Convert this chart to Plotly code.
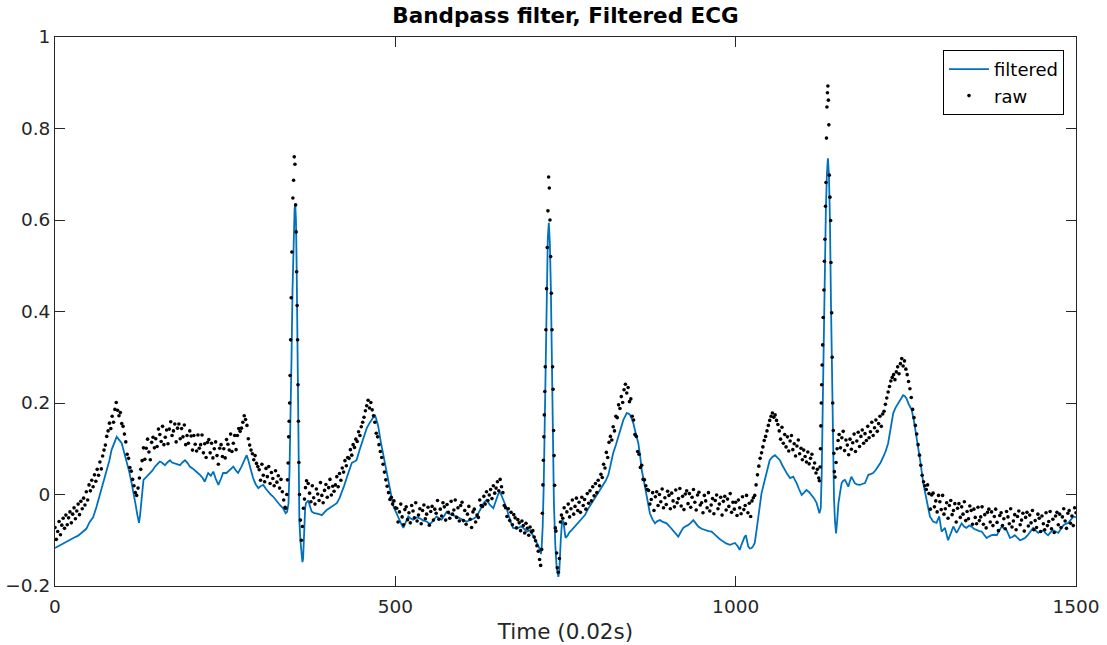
import plotly.graph_objects as go

# ---------------- filtered ECG ----------------
filt_t = [0, 6, 12, 20, 27, 34, 41, 46, 51, 56, 61, 65, 68.5, 72, 76, 80, 83, 87, 90.6, 94,
          98, 101, 105, 109, 112.6, 116, 119, 121, 123.4, 125, 127, 129, 130, 134.7, 139.6, 143, 147, 151, 154, 157,
          161.6, 165, 169, 172, 176, 180, 183.6, 187, 191, 195, 198, 202, 205.7, 209, 213, 217, 220, 225, 229, 232.6,
          236, 240, 244, 247, 252, 257, 262, 266, 269, 274, 278, 281.6, 284, 286.5, 291, 295, 298.7, 302, 306, 310,
          313, 317, 320.7, 324, 328, 331, 335, 337, 339, 341, 343, 344.5, 346, 347.5, 349, 350.5, 352, 353, 354, 355,
          356, 357, 358, 359, 360.5, 362, 363.5, 364.5, 366, 367.5, 368.7, 372, 374.5, 377, 380, 384.4, 388, 392, 395, 399,
          403, 406.5, 410, 414, 418, 421, 425, 428.5, 432, 436, 440, 443, 447, 450.6, 454, 458, 462, 465, 468, 470,
          472, 475, 478, 482, 486, 489.7, 493, 497, 500, 504, 508, 511.7, 515, 519, 522, 526, 531, 536, 541, 546,
          550, 553, 557, 560.7, 564, 568, 572, 575.5, 579, 582.8, 586, 590, 594, 597.5, 601, 605, 608, 612, 616, 619.5,
          623, 627, 630, 634, 639, 644, 646.5, 649, 651, 653.7, 656, 658.6, 661, 663.6, 666, 668.4, 671, 673, 677, 680.6,
          684, 688, 690.5, 693, 698, 700.5, 702.7, 705, 707.6, 710, 712.5, 714, 715, 716.5, 718, 719.5, 721, 722.5, 724, 725.5,
          727, 728.5, 730, 731.5, 733, 735, 737, 739.5, 741, 743, 745, 747, 750, 753, 756, 759, 764, 768.8, 773, 778.6,
          783, 788.4, 793, 798, 802, 805.5, 809, 813, 816, 820, 824, 827.5, 831, 835, 838, 840, 842.5, 844.7, 847, 849.6,
          853, 857, 860, 862, 864.5, 866.8, 870, 874, 878, 881.5, 885, 888.8, 893, 898.6, 903, 908, 912, 915.7, 919, 923,
          926, 930, 934, 937.7, 941, 945, 950, 955, 960, 964.7, 968, 972, 977, 981.8, 986, 991.6, 995, 999, 1003, 1006,
          1008.5, 1011, 1013, 1015, 1017, 1018.5, 1021, 1023.5, 1026, 1028, 1030.5, 1033, 1035.5, 1038, 1040.5, 1043, 1046.5, 1050, 1054, 1057.7,
          1061, 1065, 1068.5, 1072, 1076, 1080, 1084.6, 1087, 1089.6, 1093, 1097, 1100.5, 1104, 1108, 1111.6, 1115, 1119, 1121, 1123, 1125,
          1126.5, 1128, 1129.5, 1131, 1132.5, 1134, 1135.5, 1137, 1138.5, 1140, 1141.5, 1143, 1144.5, 1146, 1147.5, 1149, 1151, 1153.5, 1155.7, 1158,
          1160.6, 1163, 1165.5, 1168, 1170, 1172.5, 1175, 1178, 1182.6, 1186, 1190, 1193, 1195, 1199, 1202, 1206, 1209.5, 1213, 1217, 1220.5,
          1224, 1228, 1231.5, 1235, 1239, 1242.5, 1246, 1248.5, 1251, 1254, 1258.6, 1262, 1266, 1271, 1275.6, 1280.6, 1285.4, 1290, 1295, 1299,
          1302.6, 1307.5, 1312, 1316, 1319.7, 1324.6, 1328, 1332, 1335.5, 1339, 1343, 1346.7, 1350, 1354, 1358, 1361.4, 1365, 1368.7, 1372, 1376,
          1380, 1383.6, 1387, 1390.8, 1394, 1398, 1403, 1406.5, 1410, 1414, 1417.7, 1421, 1425, 1428.5, 1432, 1437, 1441, 1444.5, 1448, 1452,
          1455.5, 1459, 1462.5, 1466, 1470, 1474, 1478, 1481.6, 1485, 1489, 1492.5, 1496.4, 1500]
filt_v = [-0.117, -0.112, -0.106, -0.1, -0.095, -0.09, -0.082, -0.075, -0.06, -0.05, -0.027, -0.005, 0.016, 0.03, 0.053, 0.075, 0.097, 0.115, 0.126, 0.12,
          0.112, 0.095, 0.075, 0.05, 0.025, 0.0, -0.027, -0.045, -0.062, -0.045, -0.019, 0.01, 0.032, 0.039, 0.047, 0.052, 0.061, 0.068, 0.072, 0.07,
          0.064, 0.07, 0.075, 0.07, 0.068, 0.066, 0.064, 0.07, 0.075, 0.068, 0.061, 0.057, 0.053, 0.048, 0.043, 0.036, 0.028, 0.047, 0.041, 0.05,
          0.035, 0.021, 0.035, 0.047, 0.047, 0.055, 0.061, 0.052, 0.047, 0.061, 0.075, 0.086, 0.075, 0.061, 0.036, 0.022, 0.014, 0.018, 0.021, 0.012,
          0.006, 0.0, -0.005, -0.012, -0.019, -0.024, -0.03, -0.036, -0.041, -0.038, -0.02, 0.05, 0.15, 0.3, 0.45, 0.57, 0.625, 0.633, 0.6, 0.5,
          0.33, 0.15, 0.0, -0.056, -0.1, -0.13, -0.148, -0.14, -0.08, -0.03, -0.019, -0.013, -0.025, -0.037, -0.04, -0.041, -0.043, -0.045, -0.04, -0.034,
          -0.03, -0.027, -0.024, -0.019, -0.008, 0.003, 0.02, 0.036, 0.052, 0.069, 0.072, 0.075, 0.095, 0.112, 0.128, 0.145, 0.156, 0.163, 0.17, 0.174,
          0.165, 0.148, 0.12, 0.09, 0.06, 0.032, 0.01, -0.025, -0.035, -0.05, -0.062, -0.073, -0.06, -0.048, -0.052, -0.055, -0.05, -0.052, -0.057, -0.059,
          -0.064, -0.062, -0.054, -0.048, -0.052, -0.055, -0.046, -0.038, -0.042, -0.045, -0.046, -0.048, -0.052, -0.055, -0.057, -0.059, -0.057, -0.055, -0.052, -0.048,
          -0.038, -0.027, -0.018, -0.012, -0.023, -0.03, -0.018, -0.008, 0.0, 0.006, -0.003, -0.012, -0.02, -0.03, -0.044, -0.056, -0.066, -0.073, -0.074, -0.073,
          -0.07, -0.073, -0.077, -0.081, -0.078, -0.085, -0.092, -0.097, -0.103, -0.112, -0.121, -0.13, -0.114, -0.07, 0.02, 0.15, 0.3, 0.45, 0.56, 0.594,
          0.55, 0.45, 0.3, 0.12, -0.02, -0.11, -0.16, -0.18, -0.165, -0.1, -0.056, -0.06, -0.095, -0.09, -0.082, -0.078, -0.07, -0.063, -0.055, -0.045,
          -0.032, -0.019, -0.008, 0.003, 0.012, 0.021, 0.03, 0.043, 0.065, 0.09, 0.108, 0.126, 0.145, 0.163, 0.172, 0.178, 0.177, 0.174, 0.167, 0.156,
          0.135, 0.112, 0.08, 0.053, 0.035, 0.017, -0.01, -0.041, -0.055, -0.063, -0.058, -0.056, -0.06, -0.063, -0.07, -0.078, -0.086, -0.092, -0.083, -0.073,
          -0.07, -0.067, -0.062, -0.056, -0.062, -0.07, -0.075, -0.078, -0.08, -0.081, -0.086, -0.092, -0.098, -0.103, -0.107, -0.11, -0.108, -0.106, -0.113, -0.121,
          -0.11, -0.099, -0.093, -0.089, -0.105, -0.114, -0.118, -0.117, -0.112, -0.106, -0.08, -0.048, -0.02, 0.003, 0.018, 0.032, 0.055, 0.075, 0.082, 0.086,
          0.081, 0.075, 0.064, 0.053, 0.044, 0.036, 0.039, 0.032, 0.025, 0.012, -0.001, 0.004, 0.01, 0.005, -0.001, -0.008, -0.019, -0.03, -0.041, -0.03,
          0.05, 0.2, 0.36, 0.5, 0.62, 0.7, 0.735, 0.7, 0.6, 0.42, 0.25, 0.1, -0.01, -0.06, -0.085, -0.06, -0.019, 0.005, 0.025, 0.03,
          0.032, 0.025, 0.017, 0.03, 0.039, 0.032, 0.025, 0.022, 0.021, 0.023, 0.025, 0.036, 0.043, 0.045, 0.047, 0.054, 0.061, 0.07, 0.083, 0.095,
          0.112, 0.145, 0.178, 0.19, 0.2, 0.208, 0.217, 0.215, 0.21, 0.198, 0.185, 0.16, 0.126, 0.075, 0.025, -0.012, -0.048, -0.059, -0.062, -0.048,
          -0.081, -0.073, -0.1, -0.085, -0.07, -0.084, -0.073, -0.063, -0.07, -0.073, -0.068, -0.07, -0.075, -0.078, -0.08, -0.081, -0.088, -0.095, -0.092, -0.089,
          -0.088, -0.089, -0.08, -0.07, -0.074, -0.078, -0.095, -0.093, -0.089, -0.094, -0.1, -0.098, -0.095, -0.09, -0.084, -0.073, -0.079, -0.084, -0.081, -0.078,
          -0.085, -0.089, -0.083, -0.078, -0.081, -0.084, -0.075, -0.067, -0.064, -0.062, -0.055, -0.048, -0.05]

# ---------------- raw ECG samples ----------------
RAW_STEP = 2
rawA_start = 0
rawA = [-0.072, -0.098, -0.081, -0.059, -0.088, -0.067, -0.052, -0.074, -0.045, -0.066,
        -0.051, -0.038, -0.062, -0.043, -0.029, -0.053, -0.036, -0.021, -0.044, -0.015,
        -0.031, -0.008, -0.023, 0.006, -0.012, 0.021, 0.008, 0.031, 0.017, 0.043,
        0.029, 0.055, 0.042, 0.071, 0.056, 0.084, 0.097, 0.108, 0.127, 0.139,
        0.156, 0.144, 0.171, 0.158, 0.186, 0.201, 0.184, 0.172, 0.179, 0.155,
        0.149, 0.132, 0.115, 0.088, 0.079, 0.059, 0.051, 0.033, 0.019, 0.004,
        -0.002, 0.014, 0.036, 0.055, 0.074,
        0.102, 0.077, 0.101, 0.121, 0.093, 0.076, 0.114, 0.125, 0.102, 0.122,
        0.105, 0.143, 0.131, 0.116, 0.149, 0.109, 0.125, 0.141, 0.111, 0.143,
        0.159, 0.129, 0.139, 0.154, 0.115, 0.145, 0.154, 0.122, 0.144, 0.126,
        0.152, 0.109, 0.129, 0.112, 0.139, 0.128, 0.097, 0.129, 0.110, 0.095,
        0.130, 0.101, 0.109, 0.130, 0.091, 0.111, 0.081, 0.114, 0.120, 0.091,
        0.112, 0.080, 0.100, 0.115, 0.085, 0.066, 0.101, 0.109, 0.083, 0.100,
        0.080, 0.120, 0.110, 0.097, 0.132, 0.094, 0.112, 0.129, 0.098, 0.129,
        0.144,
        0.138, 0.145, 0.158, 0.172, 0.164, 0.151, 0.122, 0.108, 0.097, 0.089,
        0.076, 0.085, 0.068, 0.061,
        0.054, 0.031, 0.066, 0.042, 0.028, 0.057, 0.039, 0.061, 0.024, 0.048,
        0.035, 0.019, 0.052, 0.027, 0.041, 0.014, 0.033,
        0.006, -0.012, -0.028]
rawB_start = 372
rawB = [0.024, 0.003, -0.016, 0.019, -0.007, -0.021, 0.012, 0.001, -0.013, 0.026,
        -0.002, -0.018, 0.009, 0.022, -0.006, 0.015, 0.033, -0.001, 0.018, 0.007,
        0.021, 0.039, 0.017, 0.046, 0.031, 0.058, 0.049, 0.074, 0.063, 0.081,
        0.079, 0.098, 0.086, 0.109, 0.103, 0.121, 0.116, 0.137, 0.129, 0.148,
        0.158, 0.169, 0.183, 0.194, 0.206, 0.189, 0.201, 0.185, 0.172, 0.158,
        0.134, 0.126, 0.109, 0.094, 0.081, 0.066, 0.049, 0.032, 0.018, 0.004,
        -0.011, -0.006, -0.021, -0.014, -0.029,
        -0.030, -0.060, -0.038, -0.021, -0.049, -0.066, -0.033, -0.027, -0.055, -0.040,
        -0.062, -0.024, -0.036, -0.051, -0.018, -0.058, -0.045, -0.031, -0.064, -0.035,
        -0.023, -0.053, -0.043, -0.028, -0.067, -0.037, -0.026, -0.056, -0.032, -0.041,
        -0.013, -0.054, -0.032, -0.047, -0.018, -0.027, -0.056, -0.022, -0.039, -0.052,
        -0.015, -0.043, -0.034, -0.012, -0.050, -0.029, -0.058, -0.024, -0.017, -0.057,
        -0.035, -0.065, -0.043, -0.026, -0.054, -0.072, -0.038, -0.032, -0.060, -0.045,
        -0.050, -0.012, -0.024,
        -0.026, -0.004, -0.021, 0.006, -0.013, -0.001, 0.011, -0.009, 0.019, 0.003,
        0.014, 0.028, 0.008, 0.033, 0.017, 0.004,
        -0.024, -0.029, -0.048, -0.031, -0.057, -0.039, -0.066, -0.044, -0.051, -0.073,
        -0.055, -0.062, -0.079, -0.058, -0.068, -0.084, -0.063, -0.074, -0.089, -0.071,
        -0.082,
        -0.079, -0.093, -0.101, -0.112, -0.124, -0.142]
rawC_start = 746
rawC = [-0.052, -0.029, -0.064, -0.038, -0.021, -0.049, -0.031, -0.012, -0.043, -0.026,
        -0.008, -0.035, -0.017, -0.039, -0.006, -0.024, -0.011, -0.032, 0.002, -0.019,
        0.008, -0.014, 0.017, -0.003, 0.024, 0.004, 0.031, 0.019, 0.044, 0.037,
        0.066, 0.058, 0.092, 0.081, 0.114, 0.127, 0.119, 0.148, 0.139, 0.171,
        0.168, 0.196, 0.188, 0.214, 0.201, 0.229, 0.241, 0.222, 0.234, 0.203,
        0.209, 0.171, 0.163, 0.131, 0.127, 0.094, 0.088, 0.059, 0.064, 0.033,
        0.032, 0.019, 0.011,
        0.009, -0.021, -0.011, 0.004, -0.035, -0.005, 0.006, -0.024, 0.000, -0.016,
        0.012, -0.029, -0.007, -0.022, 0.007, -0.002, -0.031, 0.003, -0.014, -0.027,
        0.010, -0.018, -0.009, 0.013, -0.025, -0.004, -0.033, 0.001, 0.008, -0.020,
        0.002, -0.028, -0.006, 0.011, -0.017, -0.034, -0.001, 0.005, -0.023,
        -0.018, -0.040, -0.002, -0.014, -0.029, 0.004, -0.036, -0.023, -0.009, -0.042,
        -0.013, -0.001, -0.031, -0.021, -0.006, -0.045, -0.015, -0.004, -0.034, -0.010,
        -0.026, 0.002, -0.039, -0.017, -0.032,
        -0.017, -0.046, -0.012, -0.029, -0.042, -0.005, -0.033, -0.024, -0.002, -0.040,
        -0.019, -0.048, -0.014, -0.007,
        -0.002, 0.021, 0.043, 0.062, 0.079, 0.091, 0.104, 0.118, 0.127, 0.139,
        0.151, 0.162, 0.171, 0.178, 0.169, 0.174, 0.162, 0.153,
        0.139, 0.121, 0.147, 0.112, 0.131, 0.104, 0.126, 0.095, 0.117, 0.129,
        0.098, 0.111, 0.084, 0.106, 0.119, 0.089, 0.101, 0.076, 0.097, 0.083,
        0.071, 0.093, 0.067, 0.079, 0.088, 0.058, 0.069, 0.047, 0.055, 0.036]
rawD_start = 1152
rawD = [0.131, 0.102, 0.124, 0.138, 0.096, 0.119, 0.108, 0.087, 0.121, 0.099,
        0.113, 0.132, 0.094, 0.117, 0.136, 0.105, 0.127, 0.141, 0.112, 0.133,
        0.118, 0.149, 0.124, 0.137, 0.158, 0.129, 0.146, 0.163, 0.138, 0.155,
        0.171, 0.149, 0.176,
        0.182, 0.197, 0.211, 0.224, 0.236, 0.248, 0.256, 0.262, 0.251, 0.268,
        0.279, 0.264, 0.286, 0.297, 0.281, 0.292, 0.274, 0.262, 0.247, 0.231,
        0.212, 0.186, 0.168, 0.151, 0.132, 0.109, 0.086, 0.064, 0.042, 0.028,
        0.019, 0.011, 0.021, 0.002,
        -0.032, -0.001, 0.003, -0.027, -0.014, -0.038, -0.002, -0.016, -0.033, -0.002,
        -0.043, -0.031, -0.018, -0.052, -0.024, -0.013, -0.044, -0.035, -0.020, -0.060,
        -0.030, -0.020, -0.050, -0.027, -0.043, -0.016, -0.057, -0.037, -0.053, -0.025,
        -0.035, -0.065, -0.032, -0.050, -0.064, -0.028, -0.057, -0.049, -0.027, -0.065,
        -0.044, -0.073, -0.039, -0.032, -0.060, -0.038, -0.068, -0.048, -0.032, -0.061,
        -0.079, -0.046, -0.040, -0.068, -0.053, -0.075, -0.037, -0.049, -0.064, -0.031,
        -0.071, -0.058, -0.044, -0.077, -0.048, -0.036, -0.066, -0.056, -0.041, -0.080,
        -0.050, -0.039, -0.069, -0.045, -0.062, -0.035, -0.077, -0.057, -0.072, -0.043,
        -0.052, -0.081, -0.047, -0.064, -0.077, -0.040, -0.068, -0.059, -0.037, -0.075,
        -0.054, -0.083, -0.047, -0.039, -0.066, -0.043, -0.072, -0.049, -0.031, -0.058,
        -0.074, -0.041, -0.035, -0.063, -0.047, -0.068, -0.029, -0.040]

# QRS complexes: samples read one by one
spike1_t = [339, 340.5, 341.5, 342.5, 343.3, 344, 344.7, 345.4, 346.2, 347, 348, 349.5, 350.5, 351.5, 352.5, 353.5, 354.3, 355, 355.7, 356.4,
            357, 357.6, 358.3, 359.2, 360.5, 362, 363.5, 365, 366.5, 368, 369.5]
spike1_v = [-0.03, 0.0, 0.032, 0.069, 0.126, 0.16, 0.2, 0.26, 0.338, 0.43, 0.53, 0.648, 0.687, 0.738, 0.722, 0.633, 0.574, 0.487, 0.413, 0.338,
            0.24, 0.16, 0.07, 0.0, -0.056, -0.1, -0.07, -0.03, -0.01, 0.015, 0.03]
spike2_t = [713.5, 715, 716, 716.8, 717.5, 718.2, 718.9, 719.6, 720.3, 721.2, 722.2, 723.2, 724.2, 725.2, 726.2, 727.2, 728.2, 729.2, 730.2, 731,
            731.8, 732.5, 733.2, 734, 735, 736, 737, 738, 739.5, 741, 742.5, 744]
spike2_v = [-0.155, -0.12, -0.041, 0.021, 0.075, 0.126, 0.174, 0.225, 0.279, 0.36, 0.45, 0.54, 0.62, 0.694, 0.67, 0.6, 0.52, 0.44, 0.36, 0.279,
            0.23, 0.14, 0.085, 0.02, -0.073, -0.08, -0.128, -0.16, -0.17, -0.14, -0.06, -0.045]
spike3_t = [1123, 1124, 1124.6, 1125.2, 1125.8, 1126.4, 1127, 1127.8, 1128.6, 1129.7, 1130.4, 1131.1, 1132, 1132.7, 1133.4, 1134.1, 1134.8, 1135.5, 1136.2, 1136.9,
            1137.5, 1138.5, 1139.5, 1140, 1141, 1141.8, 1142.6, 1143.4, 1144.2, 1145, 1146, 1147.5, 1149, 1150.5]
spike3_v = [0.03, 0.06, 0.1, 0.15, 0.2, 0.24, 0.283, 0.327, 0.387, 0.447, 0.51, 0.558, 0.63, 0.682, 0.779, 0.847, 0.878, 0.893, 0.862, 0.808,
            0.698, 0.65, 0.599, 0.507, 0.397, 0.3, 0.2, 0.14, 0.09, 0.05, 0.038, 0.07, 0.1, 0.118]

# assemble the raw series in time order
raw_t, raw_v = [], []
for start, vals, st, sv in [(rawA_start, rawA, spike1_t, spike1_v),
                            (rawB_start, rawB, spike2_t, spike2_v),
                            (rawC_start, rawC, spike3_t, spike3_v),
                            (rawD_start, rawD, [], [])]:
    raw_t += [start + RAW_STEP * i for i in range(len(vals))]
    raw_v += vals
    raw_t += st
    raw_v += sv

x_ticks = [0, 500, 1000, 1500]
x_tick_text = ["0", "500", "1000", "1500"]
y_ticks = [-0.2, 0, 0.2, 0.4, 0.6, 0.8, 1]
y_tick_text = ["\u22120.2", "0", "0.2", "0.4", "0.6", "0.8", "1"]

FONT = "DejaVu Sans"
AX = "#262626"

fig = go.Figure()
fig.add_trace(go.Scatter(x=filt_t, y=filt_v, mode="lines", name="filtered",
                         line=dict(color="#0072BD", width=1.8)))
fig.add_trace(go.Scatter(x=raw_t, y=raw_v, mode="markers", name="raw",
                         marker=dict(color="black", size=3.6, line=dict(width=0))))

axis_common = dict(showline=True, linecolor=AX, linewidth=1, mirror="ticks",
                   ticks="inside", ticklen=10, tickcolor=AX, tickwidth=1,
                   showgrid=False, zeroline=False, automargin=False,
                   tickfont=dict(family=FONT, size=18.5, color=AX))

fig.update_layout(
    width=1107, height=645,
    margin=dict(l=55, r=31, t=37, b=59),
    paper_bgcolor="white", plot_bgcolor="white",
    title=dict(text="<b>Bandpass filter, Filtered ECG</b>", x=0.5, xref="paper",
               y=1 - 15 / 645, yref="container", yanchor="middle", xanchor="center",
               font=dict(family=FONT, size=21.5, color="black")),
    xaxis=dict(range=[0, 1500], tickvals=x_ticks, ticktext=x_tick_text,
               ticklabelstandoff=4,
               title=dict(text="Time (0.02s)", standoff=7,
                          font=dict(family=FONT, size=21.5, color=AX)),
               **axis_common),
    yaxis=dict(range=[-0.2, 1], tickvals=y_ticks, ticktext=y_tick_text, **axis_common),
    legend=dict(x=(943 - 55) / 1021, y=(586 - 50) / 549, xanchor="left", yanchor="top",
                bordercolor="black", borderwidth=1, bgcolor="white",
                font=dict(family=FONT, size=18, color="black"),
                tracegroupgap=0, itemwidth=40),
    showlegend=True,
)

fig.write_html("out.html")
